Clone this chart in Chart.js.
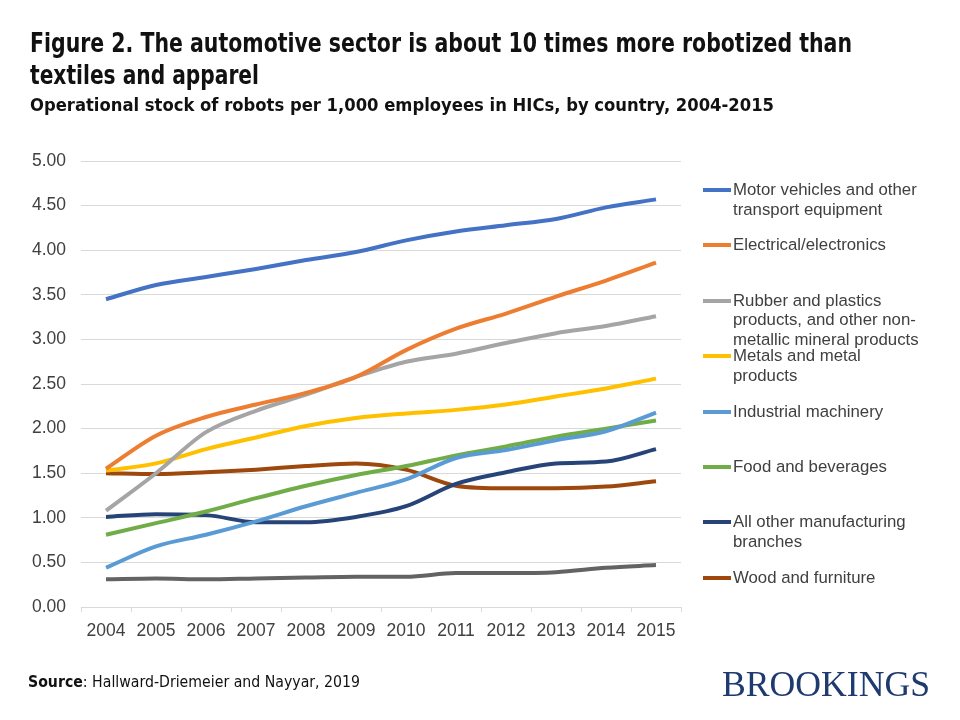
<!DOCTYPE html>
<html>
<head>
<meta charset="utf-8">
<script src="https://cdn.jsdelivr.net/npm/chart.js@4"></script>
<style>
  html,body{margin:0;padding:0;background:#fff;}
  #wrap{position:relative;width:960px;height:720px;overflow:hidden;}
  #c{position:absolute;left:0;top:0;}
  .fit{position:absolute;white-space:nowrap;transform-origin:left top;display:inline-block;}
  .title{left:30px;font-family:"DejaVu Sans Condensed","Liberation Sans Narrow",sans-serif;font-weight:bold;color:#111;}
  #t1{top:27px;font-size:27px;}
  #t2{top:59px;font-size:27px;}
  #sub{top:94px;font-size:18.5px;}
  #legend{position:absolute;left:0;top:0;}
  .li{position:absolute;left:703px;font-family:"Liberation Sans",sans-serif;font-size:16.8px;line-height:19.5px;color:#404040;white-space:nowrap;}
  .li .sw{position:absolute;left:0;top:8px;width:28px;height:4px;}
  .li .tx{position:absolute;left:30px;top:0;}
  #src{left:28px;top:673px;font-family:"DejaVu Sans Condensed",sans-serif;font-size:15.5px;color:#111;}
  #brk{left:722px;top:665px;font-family:"Liberation Serif",serif;font-size:35px;color:#1f3a6e;}
</style>
</head>
<body>
<div id="wrap">
  <canvas id="c" width="960" height="720"></canvas>
  <div class="fit title" id="t1" data-w="822">Figure 2. The automotive sector is about 10 times more robotized than</div>
  <div class="fit title" id="t2" data-w="229">textiles and apparel</div>
  <div class="fit title" id="sub" data-w="744">Operational stock of robots per 1,000 employees in HICs, by country, 2004-2015</div>
  <div id="legend"></div>
  <div class="fit" id="src" data-w="332"><b>Source</b>: Hallward-Driemeier and Nayyar, 2019</div>
  <div class="fit" id="brk" data-w="208">BROOKINGS</div>
</div>
<script>
const years = ["2004","2005","2006","2007","2008","2009","2010","2011","2012","2013","2014","2015"];
const yTicks = [0, 0.5, 1, 1.5, 2, 2.5, 3, 3.5, 4, 4.5, 5];

const motorVehicles = [3.45, 3.61, 3.70, 3.79, 3.89, 3.98, 4.11, 4.21, 4.28, 4.35, 4.48, 4.57];
const electrical    = [1.55, 1.92, 2.13, 2.27, 2.40, 2.58, 2.88, 3.12, 3.29, 3.48, 3.66, 3.86];
const rubber        = [1.08, 1.50, 1.96, 2.20, 2.38, 2.58, 2.75, 2.84, 2.96, 3.07, 3.15, 3.26];
const metals        = [1.53, 1.61, 1.77, 1.90, 2.03, 2.12, 2.17, 2.21, 2.27, 2.36, 2.45, 2.56];
const machinery     = [0.44, 0.68, 0.81, 0.96, 1.13, 1.28, 1.43, 1.67, 1.76, 1.87, 1.97, 2.18];
const food          = [0.81, 0.94, 1.07, 1.22, 1.36, 1.48, 1.58, 1.70, 1.80, 1.91, 2.00, 2.09];
const otherManuf    = [1.01, 1.04, 1.03, 0.95, 0.95, 1.01, 1.13, 1.38, 1.51, 1.61, 1.63, 1.77];
const wood          = [1.50, 1.49, 1.51, 1.54, 1.58, 1.61, 1.54, 1.36, 1.33, 1.33, 1.35, 1.41];
const textiles      = [0.31, 0.32, 0.31, 0.32, 0.33, 0.34, 0.34, 0.38, 0.38, 0.39, 0.44, 0.47];

const seriesNames = [
  ["Motor vehicles and other", "transport equipment"],
  ["Electrical/electronics"],
  ["Rubber and plastics", "products, and other non-", "metallic mineral products"],
  ["Metals and metal", "products"],
  ["Industrial machinery"],
  ["Food and beverages"],
  ["All other manufacturing", "branches"],
  ["Wood and furniture"],
  ["Textiles and apparel"]
];
const seriesValues = [motorVehicles, electrical, rubber, metals, machinery, food, otherManuf, wood, textiles];
const seriesColors = ["#4472C4","#ED7D31","#A5A5A5","#FFC000","#5B9BD5","#70AD47","#264478","#9E480E","#636363"];
const legendCount = 8;

const datasets = seriesValues.map((v, i) => ({
  label: seriesNames[i].join(" "),
  data: v,
  borderColor: seriesColors[i],
  backgroundColor: seriesColors[i],
  borderWidth: 4,
  pointRadius: 0,
  tension: 0.4,
  cubicInterpolationMode: 'monotone',
  fill: false,
  order: i
}));

new Chart(document.getElementById('c'), {
  type: 'line',
  data: { labels: years, datasets },
  options: {
    responsive: false,
    animation: false,
    devicePixelRatio: 1,
    layout: { padding: { left: 18, right: 279, top: 161, bottom: 73 } },
    plugins: { legend: { display: false }, tooltip: { enabled: false }, title: { display: false } },
    scales: {
      x: {
        offset: true,
        grid: { offset: true, drawOnChartArea: false, drawTicks: true, tickLength: 5, color: '#D9D9D9', lineWidth: 1 },
        border: { display: true, color: '#D9D9D9', width: 1 },
        ticks: { color: '#404040', font: { family: 'Liberation Sans', size: 17.5 }, padding: 9, maxRotation: 0 },
        afterFit: s => { s.height = 40; }
      },
      y: {
        min: 0, max: 5,
        afterBuildTicks: s => { s.ticks = yTicks.map(v => ({ value: v })); },
        grid: { color: '#D9D9D9', lineWidth: 1, drawTicks: false },
        border: { display: false },
        ticks: { color: '#404040', font: { family: 'Liberation Sans', size: 17.5 }, padding: 15, callback: v => Number(v).toFixed(2) },
        afterFit: s => { s.width = 63; }
      }
    }
  }
});

const lg = document.getElementById('legend');
for (let i = 0; i < legendCount; i++) {
  const d = document.createElement('div');
  d.className = 'li';
  d.style.top = (180 + i * 55.4) + 'px';
  const sw = document.createElement('div');
  sw.className = 'sw';
  sw.style.background = seriesColors[i];
  const tx = document.createElement('div');
  tx.className = 'tx';
  tx.innerHTML = seriesNames[i].join('<br>');
  d.appendChild(sw); d.appendChild(tx);
  lg.appendChild(d);
}

document.querySelectorAll('.fit').forEach(el => {
  const target = parseFloat(el.dataset.w);
  const w = el.getBoundingClientRect().width;
  if (w > 0) el.style.transform = 'scaleX(' + (target / w) + ')';
});
</script>
</body>
</html>
